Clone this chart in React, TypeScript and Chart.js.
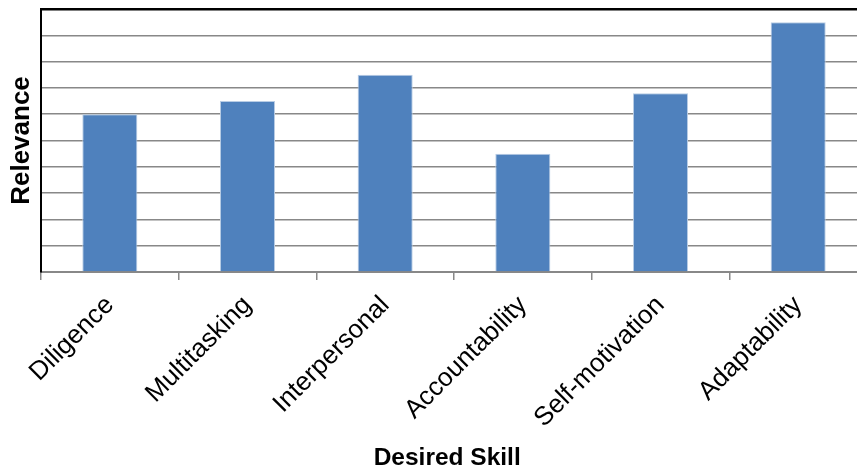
import React, { useEffect, useRef } from "react";
import { Chart, registerables } from "chart.js";

Chart.register(...registerables);

const categories = ["Diligence", "Multitasking", "Interpersonal", "Accountability", "Self-motivation", "Adaptability"];
const relevance = [6, 6.5, 7.5, 4.5, 6.8, 9.5];
const yMin = 0;
const yMax = 10;
const yStep = 1;
const xTitle = "Desired Skill  ";
const yTitle = "Relevance";

const CANVAS_W = 869;
const CANVAS_H = 472;

export default function App() {
  const ref = useRef<HTMLCanvasElement | null>(null);
  useEffect(() => {
    document.body.style.margin = "0";
    const ctx = ref.current!.getContext("2d")!;
    const chart = new Chart(ctx, {
      type: "bar",
      data: {
        labels: categories,
        datasets: [
          {
            data: relevance,
            backgroundColor: "#4F81BD",
            borderColor: "#B9CDE5",
            borderWidth: 1,
            barPercentage: 0.4,
            categoryPercentage: 1,
          },
        ],
      },
      options: {
        animation: false,
        responsive: false,
        devicePixelRatio: 1,
        layout: { padding: { top: 9, right: 2, left: 0, bottom: 0 } },
        plugins: { legend: { display: false }, tooltip: { enabled: false } },
        scales: {
          x: {
            offset: true,
            grid: {
              display: true,
              offset: true,
              drawOnChartArea: false,
              drawTicks: true,
              tickLength: 8,
              color: "#888888",
              lineWidth: 1.5,
            },
            border: { display: true, color: "#888888", width: 2 },
            ticks: {
              maxRotation: 45,
              minRotation: 45,
              autoSkip: false,
              color: "#000",
              padding: 10,
              font: { family: "Liberation Sans, Arial, sans-serif", size: 26 },
            },
            title: {
              display: true,
              text: xTitle,
              color: "#000",
              padding: { top: 0, bottom: 0 },
              font: { family: "Liberation Sans, Arial, sans-serif", size: 24.5, weight: "bold", lineHeight: 1.1 },
            },
            afterFit: (s: any) => {
              s.height = 200;
            },
          },
          y: {
            min: yMin,
            max: yMax,
            grid: {
              color: (c: any) => (c.tick && c.tick.value === yMax ? "#000000" : "#888888"),
              lineWidth: (c: any) => (c.tick && c.tick.value === yMax ? 2.5 : 1.5),
              drawTicks: false,
            },
            border: { display: true, color: "#000", width: 2 },
            ticks: { display: false, stepSize: yStep },
            title: {
              display: true,
              text: yTitle,
              color: "#000",
              padding: { top: 8, bottom: 0 },
              font: { family: "Liberation Sans, Arial, sans-serif", size: 26, weight: "bold", lineHeight: 1.1 },
            },
            afterFit: (s: any) => {
              s.width = 41;
            },
          },
        },
      },
    });
    return () => chart.destroy();
  }, []);
  return (
    <div style={{ position: "fixed", left: 0, top: 0, width: 857, height: 472, overflow: "hidden", background: "#fff" }}>
      <canvas ref={ref} width={CANVAS_W} height={CANVAS_H} style={{ width: CANVAS_W, height: CANVAS_H, display: "block" }} />
    </div>
  );
}
